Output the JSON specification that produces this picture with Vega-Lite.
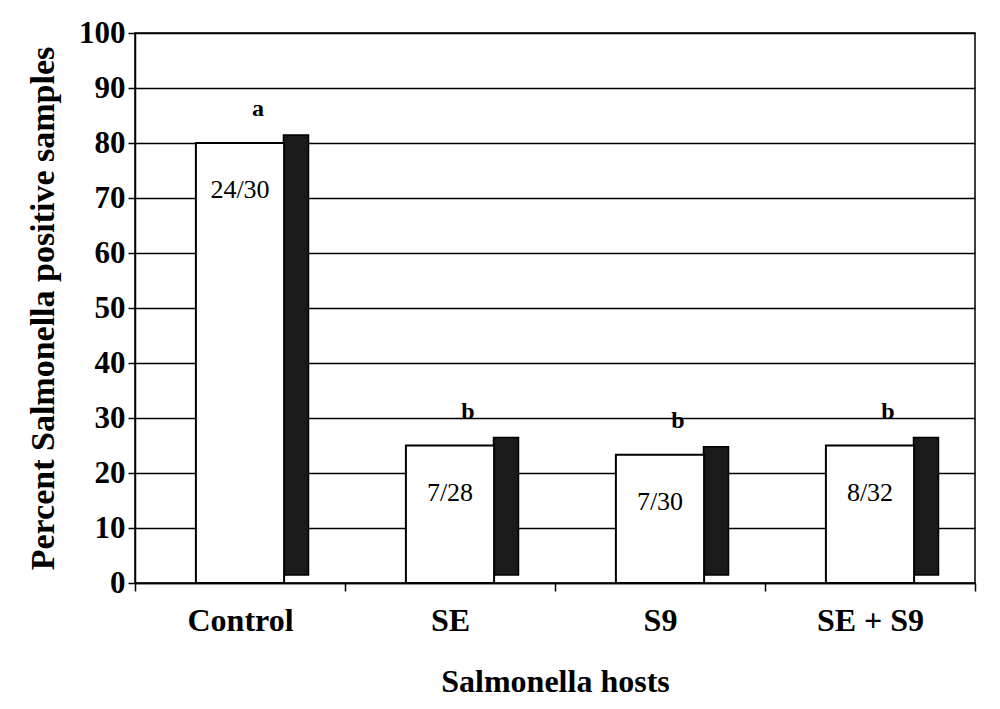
{
  "$schema": "https://vega.github.io/schema/vega-lite/v6.json",
  "autosize": "none",
  "width": 840,
  "height": 550,
  "padding": {"left": 135, "top": 33, "right": 25, "bottom": 126},
  "background": "white",
  "config": {
    "font": "Liberation Serif",
    "view": {"stroke": "black", "strokeWidth": 1.5}
  },
  "data": {
    "values": [
      {"host": "Control", "percent": 80, "fraction": "24/30", "letter": "a"},
      {"host": "SE", "percent": 25, "fraction": "7/28", "letter": "b"},
      {"host": "S9", "percent": 23.3, "fraction": "7/30", "letter": "b"},
      {"host": "SE + S9", "percent": 25, "fraction": "8/32", "letter": "b"}
    ]
  },
  "encoding": {
    "x": {
      "field": "host",
      "type": "nominal",
      "sort": null,
      "scale": {"paddingInner": 0, "paddingOuter": 0},
      "axis": {
        "title": "Salmonella hosts",
        "labelAngle": 0,
        "labelFont": "Liberation Serif",
        "labelFontWeight": "bold",
        "labelFontSize": 32,
        "labelColor": "black",
        "labelPadding": 14,
        "tickBand": "extent",
        "tickColor": "black",
        "tickSize": 8,
        "tickWidth": 1.5,
        "domainColor": "black",
        "domainWidth": 1.5,
        "titleFont": "Liberation Serif",
        "titleFontSize": 32,
        "titleFontWeight": "bold",
        "titleColor": "black",
        "titlePadding": 30
      }
    },
    "y": {
      "field": "percent",
      "type": "quantitative",
      "scale": {"domain": [0, 100]},
      "axis": {
        "title": "Percent Salmonella positive samples",
        "values": [0, 10, 20, 30, 40, 50, 60, 70, 80, 90, 100],
        "labelFont": "Liberation Serif",
        "labelFontWeight": "bold",
        "labelFontSize": 31,
        "labelColor": "black",
        "labelPadding": 3,
        "tickColor": "black",
        "tickSize": 7,
        "tickWidth": 1.5,
        "domainColor": "black",
        "domainWidth": 1.5,
        "grid": true,
        "gridColor": "black",
        "gridWidth": 1.3,
        "gridOpacity": 1,
        "titleFont": "Liberation Serif",
        "titleFontSize": 34,
        "titleFontWeight": "bold",
        "titleColor": "black",
        "titlePadding": 18
      }
    }
  },
  "layer": [
    {
      "mark": {"type": "bar", "width": 25, "xOffset": 56, "yOffset": -8, "fill": "#1a1a1a", "stroke": "black", "strokeWidth": 1.5}
    },
    {
      "mark": {"type": "bar", "width": {"band": 0.42}, "fill": "white", "stroke": "black", "strokeWidth": 2}
    },
    {
      "mark": {"type": "text", "baseline": "top", "dy": 34, "fontSize": 26, "font": "Liberation Serif", "color": "black"},
      "encoding": {"text": {"field": "fraction"}}
    },
    {
      "mark": {"type": "text", "baseline": "bottom", "dy": -22, "dx": 18, "fontSize": 24, "fontWeight": "bold", "font": "Liberation Serif", "color": "black"},
      "encoding": {"text": {"field": "letter"}}
    }
  ]
}
